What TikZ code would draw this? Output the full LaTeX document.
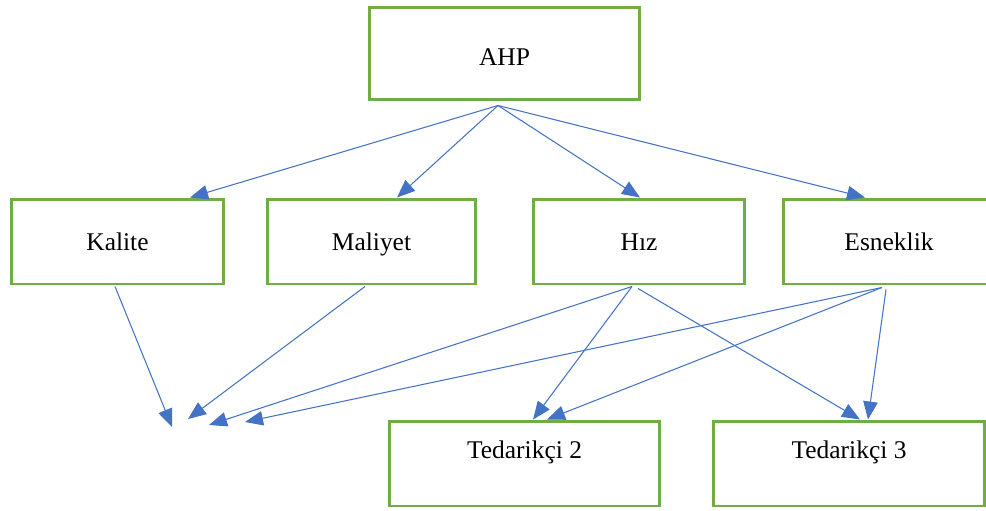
\documentclass[tikz,border=0pt]{standalone}
\usepackage{fontspec}
\setmainfont{Liberation Serif}
\usepackage{tikz}
\usetikzlibrary{arrows.meta,calc}
\usetikzlibrary{positioning}
\definecolor{boxgreen}{HTML}{70AD47}
\definecolor{linkblue}{HTML}{4472C4}
\tikzstyle{block} = [rectangle, draw=boxgreen, line width=1.7pt, inner sep=0pt, text centered, text height=0.43cm, text depth=0.09cm, minimum width=4.24cm, minimum height=1.7cm, font=\fontsize{14.5}{17}\selectfont]
\tikzstyle{wideblock} = [block, minimum width=5.42cm]
\tikzstyle{lowtext} = [text height=0.45cm, text depth=0.64cm]
\tikzstyle{link} = [draw=linkblue, line width=0.6pt, -{Triangle[length=0.36cm,width=0.29cm]}, linkblue]

\begin{document}
\begin{tikzpicture}[x=0.02cm,y=-0.02cm]
            \useasboundingbox (0,0) rectangle (986,510);
            \node [wideblock, minimum height=1.86cm, text height=0.57cm] (ahp) at (504.5,53.5) {AHP};
            \node [block, minimum width=4.26cm] (kalite) at (117.5,241.5) {Kalite};
            \node [block, minimum width=4.18cm] (maliyet) at (371.5,241.5) {Maliyet};
            \node [block] (hiz) at (639,241.5) {Hız};
            \node [block] (esneklik) at (889,241.5) {Esneklik};
            \node [wideblock, lowtext] (ted2) at (524.5,463.5) {Tedarikçi 2};
            \node [wideblock, lowtext, minimum width=5.44cm] (ted3) at (849,463.5) {Tedarikçi 3};

            % loose ends where the arrows stop
            \coordinate (end1) at (172,427);
            \coordinate (end2) at (188,419);
            \coordinate (end3) at (209,425);
            \coordinate (end4) at (245,422);

            \draw[link] ($(ahp.south)+(-6.5,4)$) -- ($(kalite.north)+(72.5,0)$);
            \draw[link] ($(ahp.south)+(-6.5,4)$) -- ($(maliyet.north)+(25.5,0)$);
            \draw[link] ($(ahp.south)+(-6.5,4)$) -- ($(hiz.north)+(1,0)$);
            \draw[link] ($(ahp.south)+(-6.5,4)$) -- ($(esneklik.north)+(-24,0)$);

            \draw[link] ($(kalite.south)+(-2.5,1)$) -- (end1);
            \draw[link] ($(maliyet.south)+(-6.5,1)$) -- (end2);
            \draw[link] ($(hiz.south)+(-7,1)$) -- (end3);
            \draw[link] ($(esneklik.south)+(-7,2)$) -- (end4);

            \draw[link] ($(hiz.south)+(-7,1)$) -- ($(ted2.north)+(8.5,0)$);
            \draw[link] ($(hiz.south)+(-1,3)$) -- ($(ted3.north)+(11,0)$);
            \draw[link] ($(esneklik.south)+(-7,2)$) -- ($(ted2.north)+(22.5,0)$);
            \draw[link] ($(esneklik.south)+(-3,4)$) -- ($(ted3.north)+(19,0)$);
        \end{tikzpicture}
\end{document}
